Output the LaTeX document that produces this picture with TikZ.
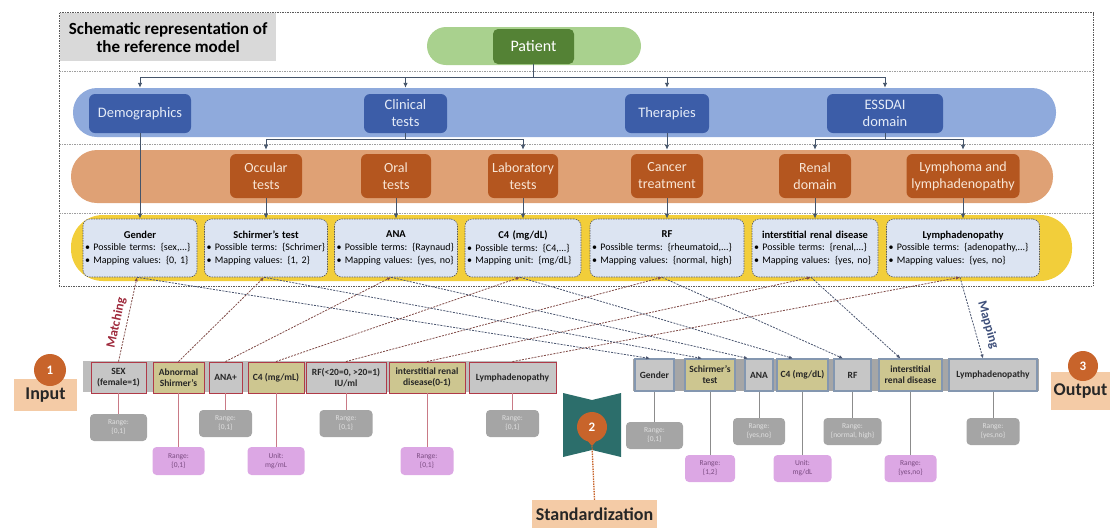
\documentclass[tikz,border=0pt]{standalone}
\usepackage{fontspec}
\setmainfont{Carlito}
\usetikzlibrary{arrows.meta}

\definecolor{frameGray}{HTML}{595959}
\definecolor{titleFill}{HTML}{D9D9D9}
\definecolor{greenBand}{HTML}{A9D18E}
\definecolor{greenBox}{HTML}{548235}
\definecolor{blueBand}{HTML}{8FAADC}
\definecolor{blueBox}{HTML}{3C5DA8}
\definecolor{blueText}{HTML}{E4EBF7}
\definecolor{orangeBand}{HTML}{DFA175}
\definecolor{orangeBox}{HTML}{B4561F}
\definecolor{orangeText}{HTML}{F8E6D6}
\definecolor{yellowBand}{HTML}{F2CE3A}
\definecolor{termFill}{HTML}{DCE4F2}
\definecolor{connGray}{HTML}{44546A}
\definecolor{matchRed}{HTML}{9E2A3C}
\definecolor{matchLine}{HTML}{7F4A46}
\definecolor{mapLine}{HTML}{4B5670}
\definecolor{mapText}{HTML}{3E4F7A}
\definecolor{inBorder}{HTML}{B03A48}
\definecolor{outBorder}{HTML}{8497B0}
\definecolor{cellGray}{HTML}{C6C6C6}
\definecolor{cellKhaki}{HTML}{CDC690}
\definecolor{stripIn}{HTML}{BDBDBD}
\definecolor{stripOut}{HTML}{A6A6A6}
\definecolor{rangeGray}{HTML}{A5A5A5}
\definecolor{rangePurple}{HTML}{DCA7E4}
\definecolor{purpleText}{HTML}{7B4C82}
\definecolor{badge}{HTML}{C8642B}
\definecolor{peach}{HTML}{F4CBA6}
\definecolor{tealShape}{HTML}{2C6E6B}
\definecolor{stemIn}{HTML}{C97A86}
\definecolor{stemOut}{HTML}{8C8C8C}

\begin{document}
\begin{tikzpicture}[x=1pt,y=-1pt,
  patientbox/.style={fill=greenBox, rounded corners=5pt, text=white,
    font=\fontsize{16}{18}\selectfont, inner sep=0},
  catbox/.style={fill=blueBox, rounded corners=6pt, text=blueText,
    font=\fontsize{14.5}{17}\selectfont, align=center, inner sep=0, minimum height=39pt},
  subbox/.style={fill=orangeBox, rounded corners=6pt, text=orangeText,
    font=\fontsize{14}{17}\selectfont, align=center, inner sep=0, minimum height=44pt},
  termbox/.style={fill=termFill, draw=frameGray, dash pattern=on 1.5pt off 1pt,
    line width=0.6pt, rounded corners=7pt, minimum height=58pt, inner sep=0,
    align=left, font=\fontsize{10}{12.6}\selectfont},
  flow/.style={draw=connGray, line width=0.9pt},
  flowarrow/.style={flow, -{Latex[length=5pt,width=4.5pt]}},
  incell/.style={draw=inBorder, line width=0.9pt, minimum height=31pt, inner sep=0,
    align=center, font=\fontsize{9.5}{11}\selectfont\bfseries, text=black!85},
  outcell/.style={draw=outBorder, line width=1.1pt, minimum height=32pt, inner sep=0,
    align=center, font=\fontsize{9.5}{11}\selectfont\bfseries, text=black!85},
  rangebox/.style={rounded corners=4pt, minimum height=27pt, inner sep=0,
    align=center, font=\fontsize{7.5}{9}\selectfont},
  rgray/.style={rangebox, fill=rangeGray, text=white!88!black},
  rpurple/.style={rangebox, fill=rangePurple, text=purpleText},
  matchlink/.style={draw=matchLine, line width=0.8pt, dash pattern=on 2pt off 1.2pt,
    -{Latex[length=4pt,width=3.5pt]}},
  maplink/.style={draw=mapLine, line width=0.8pt, dash pattern=on 2pt off 1.2pt,
    -{Latex[length=4pt,width=3.5pt]}},
  badgecircle/.style={circle, fill=badge, text=white,
    font=\fontsize{13}{13}\selectfont\bfseries, minimum size=30pt, inner sep=0},
  steplabel/.style={fill=peach, font=\fontsize{18}{20}\selectfont\bfseries,
    text=black!85, inner sep=0},
  sepline/.style={draw=gray!75, line width=0.6pt, dash pattern=on 1.5pt off 1pt}
]
\useasboundingbox (0,0) rectangle (1110,528);

% ---------- reference model frame ----------
\draw[frameGray, line width=0.8pt, dash pattern=on 1.5pt off 1pt] (59,12.5) rectangle (1093,286);
\draw[sepline] (59,71) -- (1093,71);
\draw[sepline] (59,144) -- (1093,144);
\draw[sepline] (59,213) -- (1093,213);

\node[fill=titleFill, minimum width=216pt, minimum height=48pt, inner sep=0, align=center,
  font=\fontsize{17}{18}\selectfont\bfseries, anchor=north west] (title) at (60,13)
  {Schematic representation of\\the reference model};

% bands
\fill[greenBand, rounded corners=19pt] (427,27) rectangle (641,65);
\fill[blueBand, rounded corners=24pt] (73,88) rectangle (1056,137);
\fill[orangeBand, rounded corners=26pt] (71,150) rectangle (1053,203);
\fill[yellowBand, rounded corners=32pt] (71,215) rectangle (1072,281);

% level 0
\node[patientbox, minimum width=81pt, minimum height=35pt] (patient) at (533.5,46.5) {Patient};

% level 1
\node[catbox, minimum width=102pt] (demo) at (140,113.5) {Demographics};
\node[catbox, minimum width=83pt] (clin) at (405.5,113.5) {Clinical\\tests};
\node[catbox, minimum width=84pt] (ther) at (667,113.5) {Therapies};
\node[catbox, minimum width=116pt] (essdai) at (885,113.5) {ESSDAI\\domain};

% level 2
\node[subbox, minimum width=72pt] (occ) at (266,176) {Occular\\tests};
\node[subbox, minimum width=70pt] (oral) at (396,176) {Oral\\tests};
\node[subbox, minimum width=70pt] (lab) at (523,176) {Laboratory\\tests};
\node[subbox, minimum width=72pt] (cancer) at (667,176) {Cancer\\treatment};
\node[subbox, minimum width=72pt] (renal) at (815,176) {Renal\\domain};
\node[subbox, minimum width=113pt] (lympho) at (963,176) {Lymphoma and\\lymphadenopathy};

% level 3: terms
\node[termbox, minimum width=114pt, text width=110pt] (gender) at (140,248)
  {{\centering\fontsize{10.5}{12.6}\selectfont\bfseries Gender\par}
   \textbullet\ Possible terms: \{sex,...\}\par
   \textbullet\ Mapping values: \{0, 1\}};
\node[termbox, minimum width=123pt, text width=119pt] (schirmer) at (266,248)
  {{\centering\fontsize{10.5}{12.6}\selectfont\bfseries Schirmer's test\par}
   \textbullet\ Possible terms: \{Schrimer\}\par
   \textbullet\ Mapping values: \{1, 2\}};
\node[termbox, minimum width=123pt, text width=119pt] (ana) at (396,248)
  {{\centering\fontsize{10.5}{12.6}\selectfont\bfseries ANA\par}
   \textbullet\ Possible terms: \{Raynaud\}\par
   \textbullet\ Mapping values: \{yes, no\}};
\node[termbox, minimum width=116pt, text width=112pt] (cfour) at (523,248)
  {{\centering\fontsize{10.5}{12.6}\selectfont\bfseries C4 (mg/dL)\par}
   \textbullet\ Possible terms: \{C4,...\}\par
   \textbullet\ Mapping unit: \{mg/dL\}};
\node[termbox, minimum width=154pt, text width=150pt] (rf) at (667,248)
  {{\centering\fontsize{10.5}{12.6}\selectfont\bfseries RF\par}
   \textbullet\ Possible terms: \{rheumatoid,...\}\par
   \textbullet\ Mapping values: \{normal, high\}};
\node[termbox, minimum width=126pt, text width=122pt] (inter) at (815,248)
  {{\centering\fontsize{10.5}{12.6}\selectfont\bfseries interstitial renal disease\par}
   \textbullet\ Possible terms: \{renal,...\}\par
   \textbullet\ Mapping values: \{yes, no\}};
\node[termbox, minimum width=153pt, text width=149pt] (lymph) at (963,248)
  {{\centering\fontsize{10.5}{12.6}\selectfont\bfseries Lymphadenopathy\par}
   \textbullet\ Possible terms: \{adenopathy,...\}\par
   \textbullet\ Mapping values: \{yes, no\}};

% hierarchy connectors
\coordinate (bus1) at (533.5,77);
\draw[flow] (patient.south) -- (bus1);
\draw[flowarrow] (bus1) -| ([yshift=6pt]demo.north);
\draw[flowarrow] (bus1) -| ([yshift=6pt]clin.north);
\draw[flowarrow] (bus1) -| ([yshift=6pt]ther.north);
\draw[flowarrow] (bus1) -| ([yshift=6pt]essdai.north);

\coordinate (bus2) at (405.5,139);
\draw[flow] (clin.south) -- (bus2);
\draw[flowarrow] (bus2) -| ([yshift=4pt]occ.north);
\draw[flowarrow] (bus2) -| ([yshift=4pt]lab.north);
\draw[flowarrow] (ther.south) -- ([yshift=4pt]cancer.north);
\coordinate (bus3) at (885,139);
\draw[flow] (essdai.south) -- (bus3);
\draw[flowarrow] (bus3) -| ([yshift=4pt]renal.north);
\draw[flowarrow] (bus3) -| ([yshift=4pt]lympho.north);

\draw[flowarrow] (demo.south) -- (gender.north);
\draw[flowarrow] (occ.south) -- (schirmer.north);
\draw[flowarrow] (oral.south) -- (ana.north);
\draw[flowarrow] (lab.south) -- (cfour.north);
\draw[flowarrow] (cancer.south) -- (rf.north);
\draw[flowarrow] (renal.south) -- (inter.north);
\draw[flowarrow] (lympho.south) -- (lymph.north);

% ---------- input record ----------
\fill[stripIn] (83,361) rectangle (557,392);
\node[incell, fill=cellGray, minimum width=55pt] (in1) at (118.5,377.5) {SEX\\(female=1)};
\node[incell, fill=cellKhaki, minimum width=51pt] (in2) at (178.5,377.5) {Abnormal\\Shirmer's};
\node[incell, fill=cellGray, minimum width=33pt] (in3) at (225.5,377.5) {ANA+};
\node[incell, fill=cellKhaki, minimum width=56pt] (in4) at (276,377.5) {C4 (mg/mL)};
\node[incell, fill=cellGray, minimum width=80pt] (in5) at (346,377.5) {RF(<20=0, >20=1)\\IU/ml};
\node[incell, fill=cellKhaki, minimum width=76pt] (in6) at (427,377.5) {interstitial renal\\disease(0-1)};
\node[incell, fill=cellGray, minimum width=87pt] (in7) at (512.5,377.5) {Lymphadenopathy};

\node[rgray, minimum width=57pt] (r1) at (118.5,427.5) {Range:\\\{0,1\}};
\node[rpurple, minimum width=52pt, minimum height=28pt] (r2) at (178.5,461) {Range:\\\{0,1\}};
\node[rgray, minimum width=53pt] (r3) at (225.5,423.5) {Range:\\\{0,1\}};
\node[rpurple, minimum width=57pt, minimum height=28pt] (r4) at (276,461) {Unit:\\mg/mL};
\node[rgray, minimum width=53pt] (r5) at (346,423.5) {Range:\\\{0,1\}};
\node[rpurple, minimum width=53pt, minimum height=28pt] (r6) at (427,461) {Range:\\\{0,1\}};
\node[rgray, minimum width=53pt] (r7) at (512.5,423.5) {Range:\\\{0,1\}};

\foreach \i in {1,...,7} \draw[stemIn, line width=0.9pt] (in\i.south) -- (r\i.north);

% ---------- output record ----------
\fill[stripOut] (633,359) rectangle (1039,391);
\node[outcell, fill=cellGray, minimum width=39pt] (out1) at (654.5,375) {Gender};
\node[outcell, fill=cellKhaki, minimum width=50pt] (out2) at (710,375) {Schirmer's\\test};
\node[outcell, fill=cellGray, minimum width=28pt] (out3) at (759,375) {ANA};
\node[outcell, fill=cellKhaki, minimum width=51pt] (out4) at (802.5,375) {C4 (mg/dL)};
\node[outcell, fill=cellGray, minimum width=37pt] (out5) at (852.5,375) {RF};
\node[outcell, fill=cellKhaki, minimum width=63pt] (out6) at (910.5,375) {interstitial\\renal disease};
\node[outcell, fill=cellGray, minimum width=88pt] (out7) at (993,375) {Lymphadenopathy};

\node[rgray, minimum width=57pt] (o1) at (654.5,435.5) {Range:\\\{0,1\}};
\node[rpurple, minimum width=50pt] (o2) at (710,468.5) {Range:\\\{1,2\}};
\node[rgray, minimum width=52pt] (o3) at (759,431.5) {Range:\\\{yes,no\}};
\node[rpurple, minimum width=58pt] (o4) at (802.5,468.5) {Unit:\\mg/dL};
\node[rgray, minimum width=58pt] (o5) at (852.5,431.5) {Range:\\\{normal, high\}};
\node[rpurple, minimum width=52pt] (o6) at (910.5,468.5) {Range:\\\{yes,no\}};
\node[rgray, minimum width=53pt] (o7) at (993,431.5) {Range:\\\{yes,no\}};

\foreach \i in {1,...,7} \draw[stemOut, line width=0.9pt] (out\i.south) -- (o\i.north);

% ---------- matching (input -> model) ----------
\draw[matchlink] (in1.north) -- ([xshift=-3pt]gender.south);
\draw[matchlink] (in2.north) -- ([xshift=-2pt]schirmer.south);
\draw[matchlink] (in3.north) -- ([xshift=-5pt]ana.south);
\draw[matchlink] (in4.north) -- ([xshift=-3pt]cfour.south);
\draw[matchlink] (in5.north) -- ([xshift=-5pt]rf.south);
\draw[matchlink] (in6.north) -- ([xshift=-4pt]inter.south);
\draw[matchlink] (in7.north) -- ([xshift=-3pt]lymph.south);

% ---------- mapping (model -> output) ----------
\draw[maplink] ([xshift=-3pt]gender.south) -- ([xshift=-4.5pt]out1.north);
\draw[maplink] ([xshift=-2pt]schirmer.south) -- ([xshift=-8pt]out2.north);
\draw[maplink] ([xshift=-5pt]ana.south) -- ([xshift=-11pt]out3.north);
\draw[maplink] ([xshift=-3pt]cfour.south) -- ([xshift=-9.5pt]out4.north);
\draw[maplink] ([xshift=-5pt]rf.south) -- ([xshift=-9.5pt]out5.north);
\draw[maplink] ([xshift=-4pt]inter.south) -- ([xshift=-10pt]out6.north);
\draw[maplink] ([xshift=-3pt]lymph.south) -- ([xshift=-10pt]out7.north);

\node[rotate=77.7, text=matchRed, font=\fontsize{13}{13}\selectfont\bfseries] (matchlbl) at (116.5,323) {Matching};
\node[rotate=-74, text=mapText, font=\fontsize{13}{13}\selectfont\bfseries] (maplbl) at (988,325) {Mapping};

% ---------- step labels ----------
\node[steplabel, minimum width=63pt, minimum height=32pt] (inlbl) at (45.5,395) {Input};
\node[badgecircle, minimum size=32pt] (step1) at (50,370) {1};

\node[steplabel, minimum width=59pt, minimum height=38pt] (outlbl) at (1080.5,391) {Output};
\node[badgecircle] (step3) at (1083,366) {3};

\fill[tealShape] (563,393) -- (592,400) -- (621,393) -- (621,457) -- (592,450) -- (563,457) -- cycle;
\node[steplabel, minimum width=125pt, minimum height=28pt] (stdlbl) at (594.5,514) {Standardization};
\node[badgecircle] (step2) at (592,427) {2};
\fill[badge] (586,439) -- (598,439) -- (592,446) -- cycle;
\coordinate (pintip) at (592,446);
\draw[badge, line width=1.3pt, dash pattern=on 1.5pt off 1pt] (pintip) -- (stdlbl.north);

\end{tikzpicture}
\end{document}
